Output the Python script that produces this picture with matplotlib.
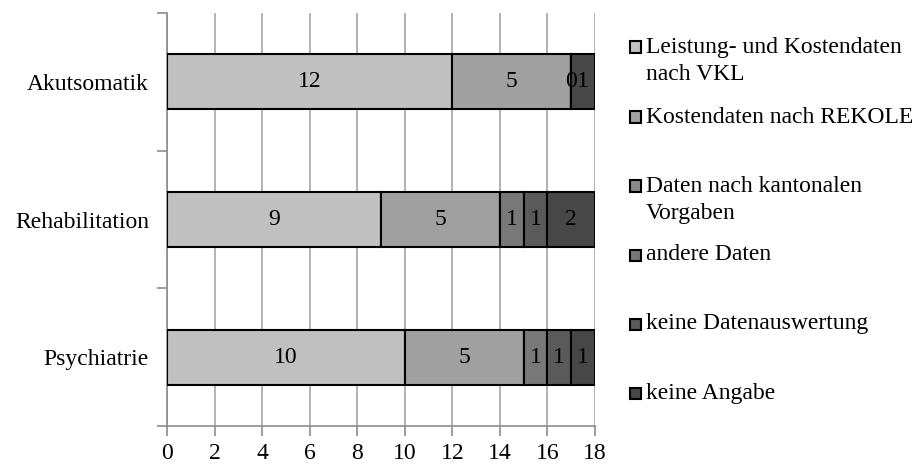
import numpy as np
import matplotlib
matplotlib.use("Agg")
import matplotlib.pyplot as plt
from matplotlib.patches import Rectangle

plt.rcParams['font.family'] = ['Liberation Serif', 'DejaVu Serif']

categories = ["Akutsomatik", "Rehabilitation", "Psychiatrie"]
series_names = ["Leistung- und Kostendaten\nnach VKL",
                "Kostendaten nach REKOLE",
                "Daten nach kantonalen\nVorgaben",
                "andere Daten",
                "keine Datenauswertung",
                "keine Angabe"]
# None = no value in the source table (no label drawn)
vkl = [12, 9, 10]
rekole = [5, 5, 5]
kantonal = [None, None, None]
andere = [0, 1, 1]
keine_auswertung = [None, 1, 1]
keine_angabe = [1, 2, 1]
colors = ["#c0c0c0", "#a0a0a0", "#8a8a8a", "#787878", "#5a5a5a", "#474747"]

series = [vkl, rekole, kantonal, andere, keine_auswertung, keine_angabe]
FS = 17

fig = plt.figure(figsize=(9.21, 4.66), dpi=100)
ax = fig.add_axes([0.1813, 0.0858, 0.4647, 0.886])

ypos = np.arange(len(categories))[::-1]
left = np.zeros(len(categories))
for vals, col in zip(series, colors):
    v = np.array([0 if x is None else x for x in vals], dtype=float)
    ax.barh(ypos, v, left=left, height=0.4, color=col, edgecolor="black",
            linewidth=1.5, zorder=3)
    for i, x in enumerate(vals):
        if x is None:
            continue
        ax.text(left[i] + x / 2, ypos[i], str(x), ha="center", va="center",
                fontsize=FS, zorder=4)
    left += v

ax.set_xlim(0, 18)
ax.set_ylim(-0.5, 2.5)
ax.set_xticks(range(0, 19, 2))
ax.set_yticks(ypos)
ax.set_yticklabels(categories)
ax.set_yticks([-0.5, 0.5, 1.5, 2.5], minor=True)
ax.tick_params(axis="y", which="major", length=0, labelsize=FS, pad=13)
ax.tick_params(axis="y", which="minor", length=7, width=1.2, color="#8c8c8c")
ax.tick_params(axis="x", length=7, width=1.2, color="#8c8c8c", labelsize=FS, pad=5)
ax.grid(axis="x", color="#a6a6a6", linewidth=1.2, zorder=0)
ax.set_axisbelow(True)
for s in ["top", "right"]:
    ax.spines[s].set_visible(False)
for s in ["left", "bottom"]:
    ax.spines[s].set_color("#8c8c8c")
    ax.spines[s].set_linewidth(1.2)

# legend, drawn by hand to match the spacing of the original
leg_y = [47, 117, 186, 255, 324, 393]
for name, col, y in zip(series_names, colors, leg_y):
    fy = 1 - y / 466
    fig.patches.append(Rectangle((630 / 921, fy - 5.5 / 466), 11 / 921, 11 / 466,
                                 transform=fig.transFigure, facecolor=col,
                                 edgecolor="black", linewidth=1.5))
    for k, ln in enumerate(name.split("\n")):
        fig.text(646 / 921, 1 - (y + k * 27) / 466, ln, ha="left", va="center",
                 fontsize=FS)

fig.savefig("out.png", dpi=100)
